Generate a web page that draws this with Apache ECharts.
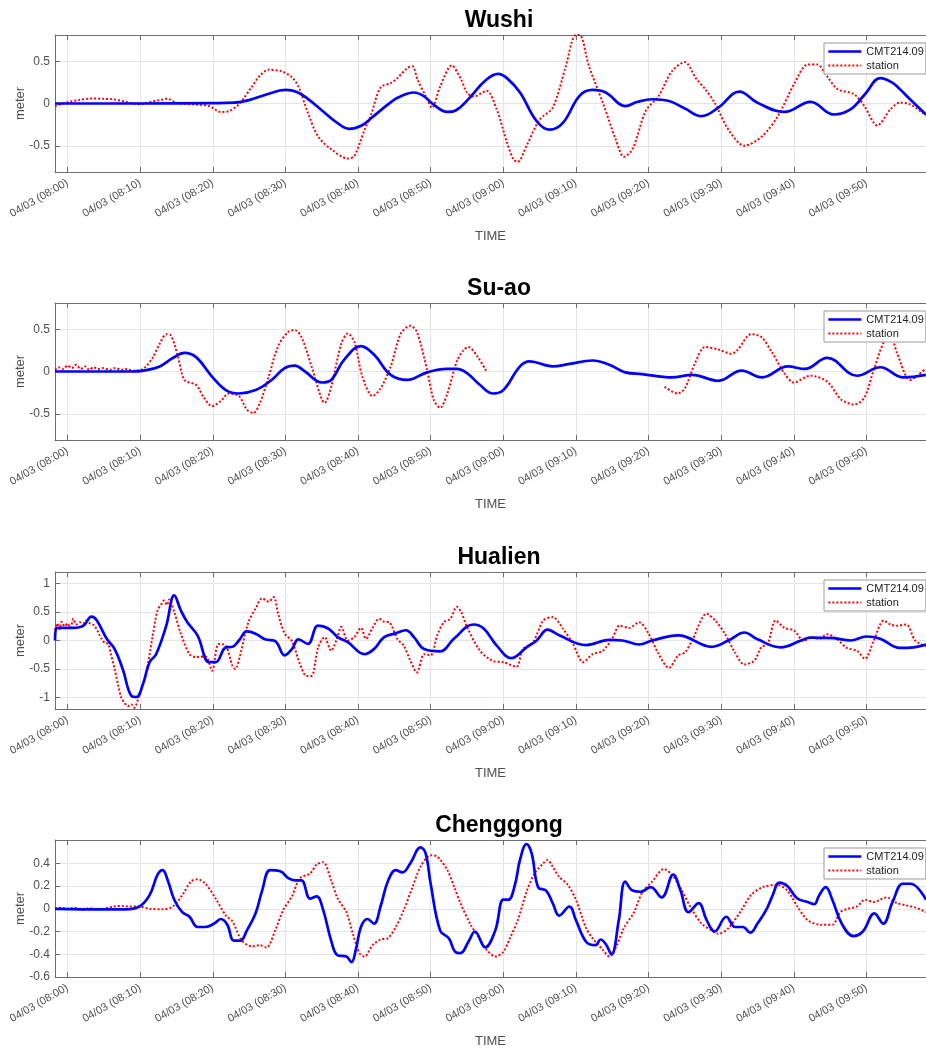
<!DOCTYPE html>
<html>
<head>
<meta charset="utf-8">
<title>CMT214.09 vs station</title>
<script src="https://cdn.jsdelivr.net/npm/echarts@6/dist/echarts.min.js"></script>
<style>
html, body { margin: 0; padding: 0; background: #fff; }
#chart { width: 926px; height: 1050px; }
</style>
</head>
<body>
<div id="chart"></div>
<script>
// time axis: minutes after 04/03 08:00
const stations = ['Wushi', 'Su-ao', 'Hualien', 'Chenggong']
const seriesNames = ['CMT214.09', 'station']
const timeTicks = [0, 10, 20, 30, 40, 50, 60, 70, 80, 90, 100, 110]
const timeRange = [-1.72, 118.2]
const yTicks = [
    [-0.5, 0, 0.5],
    [-0.5, 0, 0.5],
    [-1, -0.5, 0, 0.5, 1],
    [-0.6, -0.4, -0.2, 0, 0.2, 0.4]
]
const yRanges = [[-0.81, 0.81], [-0.81, 0.81], [-1.2, 1.2], [-0.6, 0.605]]

const wushiModel = [[-1.72, 0], [10, 0], [20, 0.005], [23, 0.01], [25, 0.04], [27.5, 0.11], [30, 0.16], [31.5, 0.14], [33, 0.06], [35, -0.08], [37, -0.22], [38.8, -0.3], [40.5, -0.26], [42, -0.16], [44, -0.02], [45.5, 0.07], [47.7, 0.13], [49, 0.09], [50.5, -0.02], [52.3, -0.1], [53.5, -0.08], [55.5, 0.08], [57.5, 0.27], [59.3, 0.35], [60.5, 0.3], [62.3, 0.13], [64.6, -0.21], [66.4, -0.31], [68.2, -0.23], [70.5, 0.09], [72.3, 0.16], [74.1, 0.13], [76.8, -0.03], [78.5, 0.02], [80.5, 0.05], [82.8, 0.03], [85, -0.06], [87.3, -0.15], [89.6, -0.05], [92.5, 0.14], [95, 0.01], [98.7, -0.1], [102.3, 0.02], [105.5, -0.13], [107.8, -0.07], [109.8, 0.11], [111.9, 0.3], [113.5, 0.25], [114.6, 0.17], [116, 0.05], [118.2, -0.13]]
const wushiStation = [[-1.72, -0.03], [0, 0.015], [1.5, 0.04], [3.5, 0.06], [5, 0.055], [6.3, 0.05], [8, 0.02], [9.9, -0.01], [11.5, 0.02], [12.7, 0.04], [13.8, 0.055], [14.9, 0.01], [16.5, -0.005], [18.1, -0.015], [19.5, -0.03], [21.1, -0.1], [22.2, -0.09], [23.6, -0.01], [25.4, 0.2], [26.5, 0.33], [27.7, 0.4], [29.5, 0.38], [30.9, 0.31], [31.8, 0.2], [33.1, -0.11], [34.5, -0.39], [36.3, -0.54], [38.6, -0.65], [39.5, -0.62], [40.9, -0.31], [41.8, -0.13], [43.1, 0.19], [44.5, 0.24], [45.4, 0.3], [46.8, 0.42], [47.5, 0.44], [48.2, 0.28], [49.3, 0.09], [50.2, -0.05], [51.3, 0.2], [52.9, 0.45], [54.1, 0.3], [55, 0.13], [55.9, 0.08], [57.7, 0.15], [59.1, -0.07], [60.5, -0.46], [61.4, -0.66], [62, -0.69], [63.2, -0.5], [65, -0.19], [66.8, -0.05], [68.6, 0.44], [69.8, 0.8], [70.5, 0.81], [71.8, 0.44], [73.7, 0.01], [75.5, -0.43], [76.6, -0.63], [77.8, -0.54], [79.6, -0.09], [81.4, 0.09], [83.2, 0.38], [85, 0.49], [86.5, 0.3], [87.8, 0.17], [89.1, 0.01], [91, -0.31], [93.2, -0.5], [95.6, -0.39], [97.8, -0.15], [100.1, 0.24], [101.9, 0.46], [103.2, 0.46], [104.6, 0.32], [106, 0.17], [108.3, 0.11], [109.7, -0.03], [111.5, -0.26], [113.3, -0.07], [114.6, 0.01], [116, -0.01], [118.2, -0.14]]

const suaoModel = [[-1.72, 0], [9, 0], [10.5, 0.01], [12.7, 0.06], [14.5, 0.16], [16.1, 0.22], [17.7, 0.17], [19.9, -0.06], [21.8, -0.22], [23.6, -0.26], [25.9, -0.22], [28.1, -0.1], [29.9, 0.04], [31.3, 0.07], [32.7, 0], [35, -0.13], [36.3, -0.1], [38.1, 0.14], [40.4, 0.3], [42.2, 0.2], [44.5, -0.04], [46.8, -0.1], [49.5, -0.01], [52.3, 0.03], [53.6, 0.03], [55, -0.02], [56.8, -0.16], [58.6, -0.26], [60, -0.22], [62.3, 0.06], [63.6, 0.12], [66.8, 0.06], [69.1, 0.09], [72.3, 0.13], [74.6, 0.08], [76.8, -0.01], [79.1, -0.03], [83.2, -0.07], [86, -0.04], [89.6, -0.11], [92.8, 0.01], [95.6, -0.07], [99.2, 0.06], [101.5, 0.03], [104.6, 0.16], [108.7, -0.05], [111.9, 0.05], [115.1, -0.07], [118.2, -0.04]]
const suaoStation = [[-1.72, 0.02], [-1.2, 0.05], [-0.6, 0.03], [0, 0.07], [0.6, 0.04], [1.2, 0.08], [1.8, 0.03], [2.4, 0.06], [3, 0.02], [3.6, 0.05], [4.2, 0.03], [5, 0.04], [5.8, 0.02], [6.6, 0.04], [7.4, 0.02], [8.2, 0.03], [9, 0.01], [10.4, 0.03], [11.7, 0.16], [12.7, 0.33], [13.6, 0.44], [14.2, 0.43], [15.2, 0.18], [16.1, -0.1], [17.7, -0.16], [18.8, -0.31], [19.9, -0.41], [21.1, -0.35], [22.2, -0.26], [23.6, -0.29], [24.7, -0.45], [25.6, -0.49], [26.5, -0.37], [27.7, -0.06], [29, 0.3], [30.4, 0.47], [31.3, 0.49], [32.2, 0.41], [33.6, 0.06], [35, -0.33], [35.4, -0.37], [36.3, -0.18], [37.7, 0.33], [38.6, 0.45], [39.5, 0.35], [40.6, -0.06], [42, -0.29], [43.1, -0.2], [44.5, 0.06], [45.9, 0.45], [47.2, 0.54], [48.1, 0.47], [49.5, 0.02], [50.4, -0.33], [51.3, -0.43], [52.3, -0.26], [53.6, 0.12], [54.5, 0.25], [55.2, 0.29], [56.5, 0.17], [57.7, 0], [60, null], [82.2, -0.18], [84, -0.26], [85, -0.2], [86.4, 0.1], [87.8, 0.29], [89.6, 0.26], [91.4, 0.21], [92.3, 0.26], [94.1, 0.44], [95.5, 0.41], [96.9, 0.24], [98.7, -0.02], [100, -0.13], [102.3, -0.05], [104.6, -0.12], [106.5, -0.33], [108.3, -0.39], [109.7, -0.31], [111, 0.02], [112.4, 0.35], [113.3, 0.42], [114.2, 0.22], [116, -0.1], [117, -0.05], [118.2, 0.04]]

const hualienModel = [[-1.72, 0], [-1.5, 0.22], [0.8, 0.22], [2.2, 0.26], [3.3, 0.42], [4, 0.36], [5.4, 0.03], [6.5, -0.15], [7.6, -0.5], [8.8, -0.97], [9.5, -0.99], [10.4, -0.76], [11.3, -0.38], [12.2, -0.24], [13.6, 0.26], [14.7, 0.79], [15.6, 0.53], [16.5, 0.32], [17.9, 0.09], [19.5, -0.38], [20.4, -0.38], [21.8, -0.12], [22.7, -0.11], [23.6, 0], [24.7, 0.16], [25.9, 0.12], [27.2, 0.02], [28.6, -0.01], [29.9, -0.26], [30.9, -0.15], [31.8, 0.02], [33.1, -0.06], [34.5, 0.26], [35.9, 0.21], [37.2, 0.06], [38.6, -0.03], [40.9, -0.24], [42.2, -0.15], [43.6, 0.06], [45, 0.12], [46.6, 0.18], [47.7, 0.06], [49.1, -0.15], [51.3, -0.19], [53.2, 0.03], [55.9, 0.28], [57.3, 0.21], [59.1, -0.09], [61.1, -0.31], [63.2, -0.12], [64.6, 0], [66.1, 0.19], [67.7, 0.09], [71.4, -0.08], [74.6, 0.01], [76.4, 0], [78.7, -0.07], [80.5, 0], [84.1, 0.09], [88.7, -0.11], [91, 0], [93.2, 0.14], [95, 0.02], [98.2, -0.12], [101, 0], [102.3, 0.05], [105.5, 0.04], [107.8, 0], [110, 0.07], [111.9, 0.03], [114.6, -0.13], [116.5, -0.12], [118.2, -0.07]]
const hualienStation = [[-1.72, 0.18], [-1.4, 0.3], [-1.1, 0.2], [-0.8, 0.33], [-0.4, 0.25], [0, 0.3], [0.4, 0.22], [0.8, 0.38], [1.2, 0.28], [1.7, 0.32], [2.1, 0.25], [2.5, 0.35], [3.1, 0.3], [3.6, 0.27], [4, 0.2], [4.4, 0.1], [4.7, 0.03], [5.1, -0.04], [5.6, -0.06], [6, -0.25], [6.5, -0.5], [7, -0.8], [7.4, -1], [7.9, -1.1], [8.3, -1.15], [8.8, -1.12], [9.2, -1.18], [9.9, -0.94], [10.8, -0.59], [11.7, 0.06], [12.4, 0.53], [13, 0.65], [13.3, 0.7], [13.7, 0.62], [14, 0.72], [14.7, 0.5], [15.6, 0.12], [16.8, -0.24], [17.7, -0.29], [19, -0.28], [19.9, -0.53], [20.8, -0.06], [21.8, -0.09], [22.7, -0.44], [23.1, -0.5], [23.8, -0.24], [24.9, 0.32], [25.9, 0.56], [26.8, 0.74], [27.7, 0.68], [28.4, 0.76], [29, 0.47], [29.9, 0.12], [30.9, -0.01], [32, -0.41], [32.9, -0.62], [33.6, -0.62], [34.5, -0.12], [35.4, 0.06], [36.3, -0.18], [37, 0], [37.7, 0.24], [38.6, 0], [39.5, 0.06], [40.4, 0.22], [41.1, 0.03], [42, 0.22], [42.9, 0.38], [43.6, 0.33], [44.3, 0.32], [45.4, 0.03], [46.3, -0.09], [47.2, -0.35], [48.1, -0.56], [49.1, -0.24], [50, -0.26], [50.9, 0.09], [51.8, 0.32], [52.7, 0.38], [53.6, 0.59], [54.2, 0.5], [55, 0.24], [56.8, -0.18], [58.6, -0.36], [60, -0.38], [61.8, -0.46], [62.7, -0.15], [64.1, -0.03], [65.5, 0.35], [66.8, 0.41], [68.2, 0.21], [69.6, -0.06], [71, -0.38], [72.3, -0.24], [73.7, -0.18], [75.1, 0.06], [76, 0.26], [77.3, 0.22], [78.7, 0.32], [80, 0.12], [81.4, -0.24], [82.8, -0.48], [84.1, -0.26], [85, -0.21], [86, 0], [88, 0.47], [89.2, 0.35], [90.5, 0.12], [91.9, -0.21], [93.2, -0.42], [94.6, -0.35], [95.5, -0.12], [96.4, -0.06], [97.5, 0.35], [98.7, 0.22], [100, 0.18], [101.4, -0.01], [102.3, 0.06], [103.5, 0.03], [104.6, 0.11], [105.9, 0.03], [107.3, -0.13], [108.7, -0.18], [109.8, -0.32], [111, 0], [112.4, 0.35], [113.3, 0.28], [114.2, 0.26], [115.5, 0.28], [116.7, 0], [118.2, -0.1]]

const chenggongModel = [[-1.72, 0], [5, -0.005], [8, -0.005], [9.9, 0.02], [11.3, 0.12], [12.4, 0.3], [13.1, 0.34], [13.8, 0.25], [14.7, 0.08], [15.8, -0.03], [16.8, -0.07], [17.9, -0.16], [19, -0.16], [20.2, -0.13], [21.1, -0.09], [22, -0.14], [22.9, -0.28], [23.8, -0.28], [24.7, -0.19], [25.9, -0.04], [26.8, 0.16], [27.9, 0.34], [29.3, 0.33], [30.4, 0.27], [31.3, 0.25], [32.2, 0.25], [33.4, 0.09], [34.3, 0.11], [35.2, -0.01], [36.3, -0.28], [37.2, -0.41], [38.4, -0.42], [39.1, -0.47], [39.7, -0.36], [40.4, -0.16], [41.3, -0.09], [42.2, -0.13], [43.1, 0.02], [44.1, 0.24], [45.2, 0.34], [46.1, 0.32], [47.2, 0.4], [48.6, 0.54], [49.3, 0.49], [50, 0.22], [51.3, -0.19], [52.5, -0.26], [53.4, -0.38], [54.1, -0.39], [55.2, -0.29], [56.1, -0.2], [57.5, -0.34], [58.9, -0.19], [60, 0.08], [60.7, 0.08], [61.6, 0.21], [62.3, 0.43], [63.2, 0.57], [63.9, 0.49], [64.8, 0.19], [65.9, 0.16], [66.8, 0.05], [67.7, -0.06], [69.1, 0.02], [70, -0.1], [71.4, -0.29], [72.7, -0.32], [73.4, -0.27], [74.1, -0.31], [74.9, -0.4], [75.9, -0.1], [76.8, 0.24], [77.8, 0.16], [78.9, 0.15], [80.3, 0.19], [81.8, 0.1], [83.4, 0.3], [84.4, 0.16], [85.5, -0.03], [86.9, 0.05], [88, -0.1], [89.1, -0.2], [90.7, -0.07], [91.9, -0.16], [93, -0.16], [94, -0.21], [95, -0.13], [96.2, -0.01], [97.1, 0.12], [98, 0.23], [99.1, 0.2], [100.5, 0.09], [101.9, 0.06], [102.8, 0.04], [103.5, 0.12], [104.4, 0.19], [105.3, 0.08], [106.6, -0.13], [108.2, -0.24], [109.5, -0.2], [111.1, -0.04], [112.3, -0.13], [113.6, 0.06], [115, 0.22], [116.1, 0.22], [118.2, 0.08]]
const chenggongStation = [[-1.72, 0], [-1, 0.01], [0, 0], [1, 0.01], [2, -0.01], [3, 0.005], [4, -0.005], [5, 0], [6.3, 0.02], [7.5, 0.025], [8.5, 0.02], [9.9, 0.02], [11.3, 0], [13.1, -0.005], [14.5, 0.02], [15.8, 0.12], [17, 0.24], [17.9, 0.26], [19, 0.22], [20.4, 0.09], [21.8, -0.06], [22.7, -0.11], [24, -0.28], [25.4, -0.33], [26.5, -0.32], [27.4, -0.34], [28.6, -0.19], [29.7, -0.01], [30.9, 0.11], [32, 0.27], [33.4, 0.31], [34.3, 0.39], [35.2, 0.41], [36.3, 0.25], [37.2, 0.09], [38.4, -0.03], [39.3, -0.22], [40.2, -0.39], [40.9, -0.42], [42, -0.32], [43.1, -0.27], [44.1, -0.26], [45.2, -0.16], [46.3, -0.01], [47.5, 0.19], [48.6, 0.37], [50, 0.47], [50.9, 0.46], [52.3, 0.34], [53.2, 0.2], [54.1, 0.05], [55.5, -0.14], [56.6, -0.25], [57.7, -0.36], [58.9, -0.42], [60, -0.38], [60.9, -0.26], [62, -0.1], [63.2, 0.15], [64.3, 0.31], [65.5, 0.4], [66.1, 0.43], [66.8, 0.37], [67.7, 0.28], [68.9, 0.21], [70, 0.08], [71.4, -0.17], [72.3, -0.26], [73.7, -0.36], [74.6, -0.42], [75.5, -0.34], [76.6, -0.17], [78, -0.03], [79.1, 0.14], [80.5, 0.24], [82.1, 0.35], [83.2, 0.3], [84.6, 0.16], [85.9, 0], [87.3, -0.13], [88.7, -0.19], [89.6, -0.22], [91, -0.17], [92.8, -0.01], [94.1, 0.12], [95.7, 0.19], [97.7, 0.21], [99.1, 0.16], [100.5, 0.02], [101.9, -0.1], [103.7, -0.14], [105.3, -0.14], [106.4, -0.03], [107.4, 0], [108.7, 0.02], [109.8, 0.08], [111, 0.06], [112.8, 0.1], [114.2, 0.05], [115.5, 0.03], [116.8, 0.01], [118.2, -0.03]]

const modelData = [wushiModel, suaoModel, hualienModel, chenggongModel]
const stationData = [wushiStation, suaoStation, hualienStation, chenggongStation]

const font = '"Liberation Sans", Arial, sans-serif'
const axisGray = '#6e6e6e'
const textGray = '#4f4f4f'
const gridTops = [35, 303, 572, 840]

function pad(n) {
    return (n < 10 ? '0' : '') + n
}
function timeLabel(v) {
    const m = Math.round(v)
    return '04/03 (' + pad(8 + Math.floor(m / 60)) + ':' + pad(m % 60) + ')'
}

const option = {
    backgroundColor: '#fff',
    animation: false,
    title: [], grid: [], xAxis: [], yAxis: [], legend: [], series: []
}

stations.forEach(function(name, i) {
    const top = gridTops[i]
    option.title.push({
        text: name,
        left: 494,
        top: top - 31,
        textAlign: 'center',
        textStyle: { fontFamily: font, fontSize: 23, fontWeight: 'bold', color: '#000' }
    })
    option.grid.push({ left: 55, top: top, width: 878, height: 137 })
    // bottom time axis with labels
    option.xAxis.push({
        type: 'value',
        gridIndex: i,
        min: timeRange[0],
        max: timeRange[1],
        name: 'TIME',
        nameLocation: 'middle',
        nameGap: 58,
        nameMoveOverlap: false,
        nameTextStyle: { fontFamily: font, fontSize: 13, color: textGray },
        axisLine: { show: true, onZero: false, lineStyle: { color: axisGray } },
        axisTick: { inside: true, length: 5, customValues: timeTicks, lineStyle: { color: axisGray } },
        axisLabel: {
            customValues: timeTicks, rotate: 30, margin: 10,
            fontFamily: font, fontSize: 11, color: textGray,
            formatter: timeLabel
        },
        splitLine: { show: true, lineStyle: { color: '#e4e4e4' } }
    })
    // top edge of the box
    option.xAxis.push({
        type: 'value',
        gridIndex: i,
        position: 'top',
        min: timeRange[0],
        max: timeRange[1],
        axisLine: { show: true, onZero: false, lineStyle: { color: axisGray } },
        axisTick: { inside: true, length: 5, customValues: timeTicks, lineStyle: { color: axisGray } },
        axisLabel: { show: false },
        splitLine: { show: false }
    })
    option.yAxis.push({
        type: 'value',
        gridIndex: i,
        min: yRanges[i][0],
        max: yRanges[i][1],
        name: 'meter',
        nameLocation: 'middle',
        nameGap: 28,
        nameMoveOverlap: false,
        nameTextStyle: { fontFamily: font, fontSize: 13, color: textGray },
        axisLine: { show: true, onZero: false, lineStyle: { color: axisGray } },
        axisTick: { show: true, inside: true, length: 5, customValues: yTicks[i], lineStyle: { color: axisGray } },
        axisLabel: { customValues: yTicks[i], margin: 5, fontFamily: font, fontSize: 12, color: textGray },
        splitLine: { show: true, lineStyle: { color: '#e4e4e4' } }
    })
    option.legend.push({
        orient: 'vertical',
        left: 824,
        top: top + 8,
        data: [
            { name: seriesNames[0], lineStyle: { width: 2.7 } },
            { name: seriesNames[1], lineStyle: { width: 2, type: 'dotted' } }
        ],
        itemWidth: 33,
        itemHeight: 12,
        itemGap: 3,
        padding: [3, 2, 3, 3],
        backgroundColor: '#fff',
        borderColor: '#9a9a9a',
        borderWidth: 1,
        borderRadius: 0,
        itemStyle: { opacity: 0 },
        textStyle: { fontFamily: font, fontSize: 11, color: '#222' }
    })
    option.series.push({
        name: seriesNames[0],
        type: 'line',
        xAxisIndex: 2 * i,
        yAxisIndex: i,
        data: modelData[i],
        symbol: 'none',
        smooth: 0.4,
        z: 3,
        lineStyle: { color: '#0000ff', width: 2.7 },
        itemStyle: { color: '#0000ff' }
    })
    option.series.push({
        name: seriesNames[1],
        type: 'line',
        xAxisIndex: 2 * i,
        yAxisIndex: i,
        data: stationData[i],
        symbol: 'none',
        smooth: 0.3,
        z: 2,
        lineStyle: { color: '#ff0000', width: 2, type: 'dotted' },
        itemStyle: { color: '#ff0000' }
    })
})

const chart = echarts.init(document.getElementById('chart'))
chart.setOption(option)
window.addEventListener('resize', function() {
    chart.resize()
})
</script>
</body>
</html>
